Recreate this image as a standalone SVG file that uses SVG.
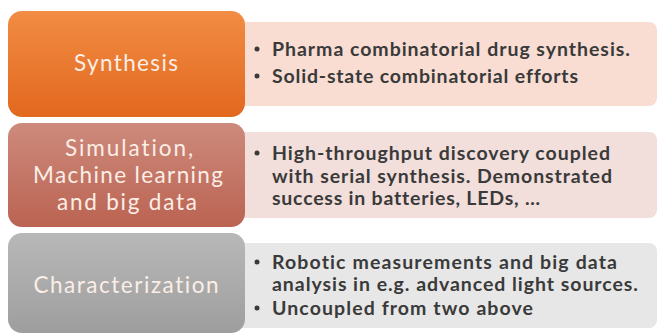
<svg xmlns="http://www.w3.org/2000/svg" width="658" height="335" viewBox="0 0 658 335">
<style>
.bl{font-family:Lato,"Liberation Sans",sans-serif;font-size:19.5px;font-weight:bold;fill:#3a3a3a;font-variant-ligatures:none}
.lt{font-family:Lato,"Liberation Sans",sans-serif;font-size:22.5px;fill:#fbeee6;text-anchor:middle;font-variant-ligatures:none}
.dot{fill:#3a3a3a}
</style>
<defs>
<linearGradient id="gO" x1="0" y1="0" x2="0" y2="1"><stop offset="0" stop-color="#f28c44"/><stop offset="1" stop-color="#e2681e"/></linearGradient>
<linearGradient id="gB" x1="0" y1="0" x2="0" y2="1"><stop offset="0" stop-color="#cd8a7c"/><stop offset="1" stop-color="#bb6352"/></linearGradient>
<linearGradient id="gG" x1="0" y1="0" x2="0" y2="1"><stop offset="0" stop-color="#b8b8b8"/><stop offset="1" stop-color="#9e9e9e"/></linearGradient>
</defs>
<g id="detail-synthesis">
<rect x="230" y="22" width="427" height="84" rx="8" fill="#f9ddd3"/>
<circle class="dot" cx="257" cy="49" r="2.5"/>
<text class="bl" x="272" y="56" textLength="358">Pharma combinatorial drug synthesis.</text>
<circle class="dot" cx="257" cy="76" r="2.5"/>
<text class="bl" x="272" y="83" textLength="306">Solid-state combinatorial efforts</text>
</g>
<g id="synthesis">
<rect x="8" y="11" width="237" height="106" rx="14" fill="url(#gO)"/>
<text class="lt" x="126" y="71" textLength="104">Synthesis</text>
</g>
<g id="detail-simulation">
<rect x="230" y="132" width="427" height="86" rx="8" fill="#f2dedb"/>
<circle class="dot" cx="257" cy="153" r="2.5"/>
<text class="bl" x="272" y="160" textLength="338">High-throughput discovery coupled</text>
<text class="bl" x="272" y="182.5" textLength="340">with serial synthesis. Demonstrated</text>
<text class="bl" x="272" y="205" textLength="268">success in batteries, LEDs, …</text>
</g>
<g id="simulation">
<rect x="8" y="123" width="237" height="104" rx="14" fill="url(#gB)"/>
<text class="lt" x="129" y="156" textLength="128">Simulation,</text>
<text class="lt" x="128" y="183" textLength="190">Machine learning</text>
<text class="lt" x="127" y="210" textLength="140">and big data</text>
</g>
<g id="detail-characterization">
<rect x="230" y="243" width="427" height="85" rx="8" fill="#e7e7e7"/>
<circle class="dot" cx="257" cy="262" r="2.5"/>
<text class="bl" x="272" y="269" textLength="345">Robotic measurements and big data</text>
<text class="bl" x="272" y="291" textLength="366">analysis in e.g. advanced light sources.</text>
<circle class="dot" cx="257" cy="308" r="2.5"/>
<text class="bl" x="272" y="315" textLength="261">Uncoupled from two above</text>
</g>
<g id="characterization">
<rect x="8" y="233" width="237" height="100" rx="14" fill="url(#gG)"/>
<text class="lt" x="126" y="293" fill="#f2f2f2" textLength="185">Characterization</text>
</g>
<g id="connectors"/>
</svg>
